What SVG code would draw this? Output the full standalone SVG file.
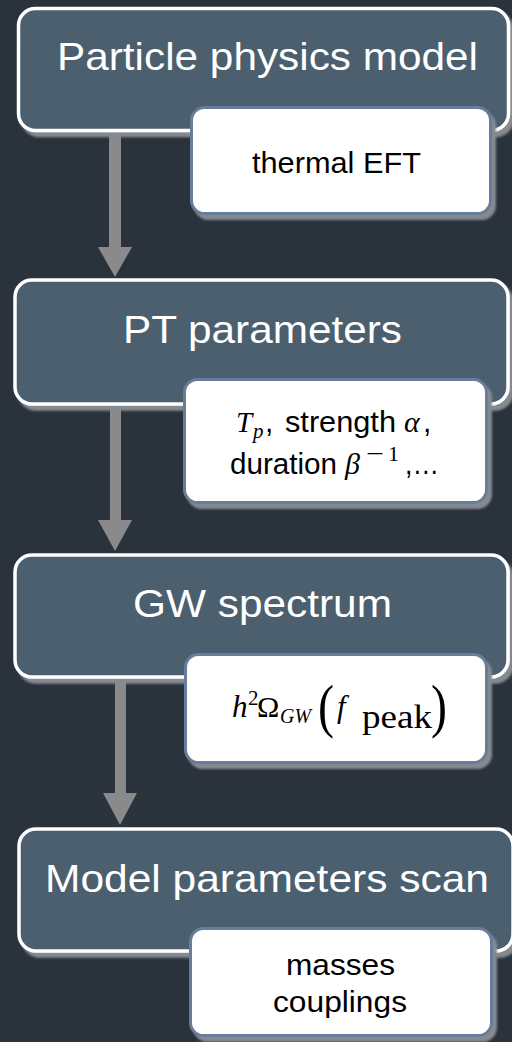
<svg xmlns="http://www.w3.org/2000/svg" width="512" height="1042" viewBox="0 0 512 1042">
<defs>
<filter id="sh" x="-5%" y="-10%" width="115%" height="130%">
<feOffset in="SourceAlpha" dx="4" dy="5" result="o"/>
<feGaussianBlur in="o" stdDeviation="1" result="b"/>
<feFlood flood-color="#858a90"/>
<feComposite in2="b" operator="in" result="s"/>
<feMerge><feMergeNode in="s"/><feMergeNode in="SourceGraphic"/></feMerge>
</filter>
<style>
.big{fill:#4b5f6e;stroke:#ffffff;stroke-width:3.5;filter:url(#sh)}
.small{fill:#ffffff;stroke:#687d9c;stroke-width:3;filter:url(#sh)}
.title{font-family:"Liberation Sans",Arial,sans-serif;font-size:39px;fill:#ffffff}
.lbl{font-family:"Liberation Sans",Arial,sans-serif;font-size:30px;fill:#000000}
.m{font-family:"Liberation Serif","Times New Roman",serif;fill:#000000}
.i{font-style:italic}
.arrow{fill:#8a8a8a}
</style>
</defs>
<rect width="512" height="1042" fill="#2a323c"/>
<g id="connectors">
<path class="arrow" d="M109,134 H121 V247 H132 L115,277 L98,247 H109 Z"/>
<path class="arrow" d="M110,407 H121 V520 H132 L115,551 L98,520 H110 Z"/>
<path class="arrow" d="M115,681 H126 V793 H137 L120,825 L103,793 H115 Z"/>
</g>
<g id="node1">
<rect class="big" x="18.5" y="8.5" width="490" height="122" rx="17"/>
<text class="title" x="57" y="70" textLength="421" lengthAdjust="spacingAndGlyphs">Particle physics model</text>
<rect class="small" x="191.5" y="107.5" width="299" height="106" rx="13"/>
<text class="lbl" x="252" y="173" textLength="169" lengthAdjust="spacingAndGlyphs">thermal EFT</text>
</g>
<g id="node2">
<rect class="big" x="15" y="280" width="493" height="124" rx="17"/>
<text class="title" x="123" y="343" textLength="279" lengthAdjust="spacingAndGlyphs">PT parameters</text>
<rect class="small" x="184.5" y="379.5" width="302" height="123" rx="13"/>
<text class="m i" x="236" y="432" font-size="29">T</text>
<text class="m i" x="253" y="438" font-size="21">p</text>
<text class="lbl" x="265" y="432">,</text>
<text class="lbl" x="285" y="432" textLength="111" lengthAdjust="spacingAndGlyphs">strength</text>
<text class="m i" x="404" y="432" font-size="30">α</text>
<text class="lbl" x="423" y="432">,</text>
<text class="lbl" x="230" y="474" textLength="107" lengthAdjust="spacingAndGlyphs">duration</text>
<text class="m i" x="345" y="474" font-size="30">β</text>
<text class="m" x="366" y="461" font-size="22" textLength="18" lengthAdjust="spacingAndGlyphs">−</text>
<text class="m" x="388" y="461" font-size="22">1</text>
<text class="lbl" x="405" y="474" textLength="34" lengthAdjust="spacingAndGlyphs">,…</text>
</g>
<g id="node3">
<rect class="big" x="15" y="555" width="493" height="122" rx="17"/>
<text class="title" x="133" y="617" textLength="259" lengthAdjust="spacingAndGlyphs">GW spectrum</text>
<rect class="small" x="185.5" y="654.5" width="301" height="108" rx="13"/>
<text class="m i" x="232" y="717" font-size="31">h</text>
<text class="m" x="248" y="705" font-size="21">2</text>
<text class="m" x="257" y="717" font-size="30">Ω</text>
<text class="m i" x="280" y="723" font-size="20" textLength="31" lengthAdjust="spacingAndGlyphs">GW</text>
<text class="m" x="318" y="726" font-size="60" textLength="16" lengthAdjust="spacingAndGlyphs">(</text>
<text class="m i" x="337" y="717" font-size="31">f</text>
<text class="m" x="362" y="728" font-size="33" textLength="70" lengthAdjust="spacingAndGlyphs">peak</text>
<text class="m" x="431" y="726" font-size="60" textLength="16" lengthAdjust="spacingAndGlyphs">)</text>
</g>
<g id="node4">
<rect class="big" x="19" y="829" width="494" height="122" rx="17"/>
<text class="title" x="45" y="892" textLength="444" lengthAdjust="spacingAndGlyphs">Model parameters scan</text>
<rect class="small" x="190.5" y="928.5" width="301" height="107" rx="13"/>
<text class="lbl" x="286" y="975" textLength="109" lengthAdjust="spacingAndGlyphs">masses</text>
<text class="lbl" x="273" y="1012" textLength="134" lengthAdjust="spacingAndGlyphs">couplings</text>
</g>
</svg>
